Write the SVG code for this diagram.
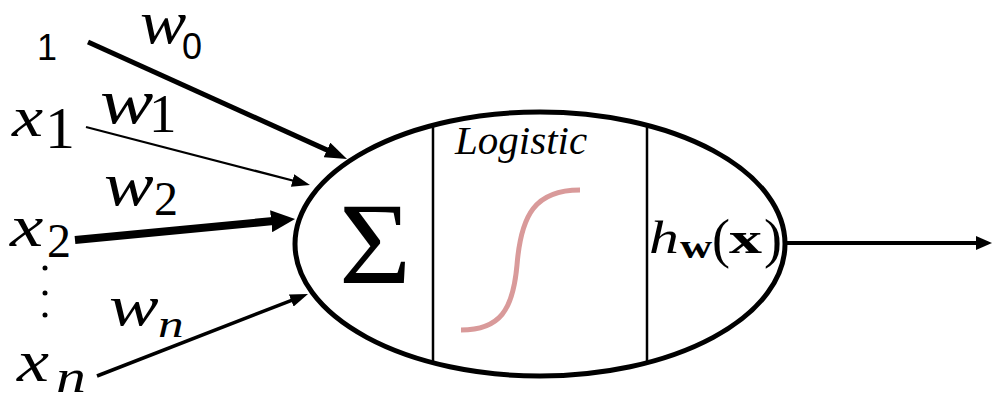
<svg xmlns="http://www.w3.org/2000/svg" width="992" height="395" viewBox="0 0 992 395">
<defs>
<marker id="mA" viewBox="0 0 22 16" refX="10" refY="8" markerWidth="22" markerHeight="16" markerUnits="userSpaceOnUse" orient="auto"><path d="M0,0 L22,8 L0,16 z" fill="#000"/></marker>
<marker id="mB" viewBox="0 0 18 13" refX="8" refY="6.5" markerWidth="18" markerHeight="13" markerUnits="userSpaceOnUse" orient="auto"><path d="M0,0 L18,6.5 L0,13 z" fill="#000"/></marker>
<marker id="mC" viewBox="0 0 24 22" refX="10" refY="11" markerWidth="24" markerHeight="22" markerUnits="userSpaceOnUse" orient="auto"><path d="M0,0 L24,11 L0,22 z" fill="#000"/></marker>
<marker id="mD" viewBox="0 0 16 14" refX="4" refY="7" markerWidth="16" markerHeight="14" markerUnits="userSpaceOnUse" orient="auto"><path d="M0,0 L16,7 L0,14 z" fill="#000"/></marker>
</defs>
<rect width="992" height="395" fill="#fff"/>

<g id="neuron">
<ellipse cx="540" cy="244" rx="245" ry="132" fill="none" stroke="#000" stroke-width="5"/>
<line x1="433" y1="125" x2="433" y2="363" stroke="#000" stroke-width="2.5"/>
<line x1="647" y1="125" x2="647" y2="363" stroke="#000" stroke-width="2.5"/>
</g>

<g id="sum">
<text font-family="Liberation Serif" font-size="116" transform="translate(339,283) scale(1.07,1)">Σ</text>
</g>

<g id="logistic">
<text font-family="Liberation Serif" font-style="italic" font-size="41" x="455" y="154">Logistic</text>
<path d="M461,330 C500,330 513,310 517,265 C521,215 535,190 580,190" fill="none" stroke="#d99a9a" stroke-width="5"/>
</g>

<g id="output-label">
<text font-family="Liberation Serif" font-style="italic" font-size="46" transform="translate(649,253) scale(1.3,1)">h</text>
<text font-family="Liberation Serif" font-weight="bold" font-size="33" transform="translate(680,258) scale(1.35,1)">w</text>
<text font-family="Liberation Serif" font-size="54" x="712" y="257">(</text>
<text font-family="Liberation Serif" font-weight="bold" font-size="44" transform="translate(729,253) scale(1.5,1)">x</text>
<text font-family="Liberation Serif" font-size="54" x="764" y="257">)</text>
</g>

<g id="inputs">
<text font-family="Liberation Sans" font-size="36" x="37" y="60">1</text>
<text font-family="Liberation Serif" font-style="italic" font-size="56" transform="translate(12,136) scale(1.25,1)">x</text>
<text font-family="Liberation Serif" font-size="60" x="45" y="148">1</text>
<text font-family="Liberation Serif" font-style="italic" font-size="60" transform="translate(10,246) scale(1.25,1)">x</text>
<text font-family="Liberation Serif" font-size="48" x="47" y="257">2</text>
<circle cx="45" cy="268" r="2.5"/>
<circle cx="45" cy="293" r="2.5"/>
<circle cx="45" cy="315" r="2.5"/>
<text font-family="Liberation Serif" font-style="italic" font-size="60" transform="translate(17,381) scale(1.2,1)">x</text>
<text font-family="Liberation Serif" font-style="italic" font-size="46" transform="translate(56,392) scale(1.3,1)">n</text>
</g>

<g id="weights">
<text font-family="Liberation Serif" font-style="italic" font-size="62" transform="translate(140,43) scale(1.12,1)">w</text>
<text font-family="Liberation Sans" font-size="36" x="182" y="59">0</text>
<text font-family="Liberation Serif" font-style="italic" font-size="64" transform="translate(100,123) scale(1.25,1)">w</text>
<text font-family="Liberation Serif" font-size="55" x="149" y="132">1</text>
<text font-family="Liberation Serif" font-style="italic" font-size="62" transform="translate(104,205) scale(1.2,1)">w</text>
<text font-family="Liberation Serif" font-size="48" x="154" y="215">2</text>
<text font-family="Liberation Serif" font-style="italic" font-size="56" transform="translate(109,325) scale(1.33,1)">w</text>
<text font-family="Liberation Serif" font-style="italic" font-size="38" transform="translate(158,337) scale(1.35,1)">n</text>
</g>

<g id="connectors" stroke="#000" fill="none">
<line x1="88" y1="42" x2="336.1" y2="154.1" stroke-width="5" marker-end="url(#mA)"/>
<line x1="86" y1="127" x2="300.3" y2="182.5" stroke-width="2.2" marker-end="url(#mB)"/>
<line x1="75" y1="240" x2="281.1" y2="220.3" stroke-width="8" marker-end="url(#mC)"/>
<line x1="97" y1="376" x2="298.7" y2="297.6" stroke-width="3.5" marker-end="url(#mB)"/>
<line x1="787" y1="243" x2="980" y2="243" stroke-width="4" marker-end="url(#mD)"/>
</g>
</svg>
